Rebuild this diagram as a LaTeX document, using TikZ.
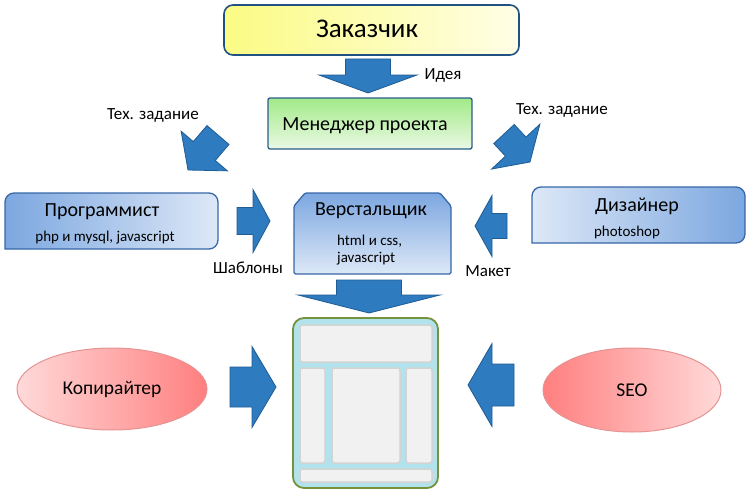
\documentclass[tikz,border=0pt]{standalone}
\usepackage{fontspec}
\setmainfont{Carlito}
\usepackage{tikz}
\usetikzlibrary{positioning, calc, shapes.geometric}

\definecolor{arrowblue}{HTML}{2E7BBF}
\definecolor{arrowedge}{HTML}{1F5C94}
\definecolor{zakleft}{HTML}{FBFB84}
\definecolor{zakright}{HTML}{FFFEE6}
\definecolor{zakedge}{HTML}{1F5283}
\definecolor{mantop}{HTML}{A2EA88}
\definecolor{manbot}{HTML}{EAF9E4}
\definecolor{manedge}{HTML}{2A5C8A}
\definecolor{carddark}{HTML}{7CA7E0}
\definecolor{cardlight}{HTML}{DDE8F7}
\definecolor{cardedge}{HTML}{3767A8}
\definecolor{pinkdark}{HTML}{FF7F7F}
\definecolor{pinklight}{HTML}{FFD9D9}
\definecolor{pinkedge}{HTML}{E59393}
\definecolor{sitefill}{HTML}{B2E3EC}
\definecolor{siteedge}{HTML}{76933C}
\definecolor{panelfill}{HTML}{F1F1F1}
\definecolor{paneledge}{HTML}{D3D3D3}

\tikzset{
	txt/.style={inner sep=0pt, text=black},
	bigtxt/.style={txt, font=\fontsize{20}{23}\selectfont},
	smalltxt/.style={txt, font=\fontsize{15}{17}\selectfont},
	lbl/.style={txt, font=\fontsize{17}{20}\selectfont},
	shell/.style={inner sep=0pt, outer sep=0pt}, % empty box, drawn by hand
	card/.style={draw=cardedge, line width=1.3pt},
	oval/.style={ellipse, inner sep=0pt, draw=pinkedge, line width=1pt, font=\fontsize{19.5}{22}\selectfont},
	blockarr/.style={fill=arrowblue, draw=arrowedge, line width=0.8pt, line join=miter},
	panel/.style={fill=panelfill, draw=paneledge, line width=1.5pt, rounded corners=2.5pt},
}

% tail, tip, half shaft, half head, head length
\newcommand{\blockarrow}[5]{%
	\coordinate (ba) at ($(#2)!#5!(#1)$);
	\draw[blockarr] ($(#1)!#3!90:(#2)$) -- ($(ba)!#3!-90:(#1)$) -- ($(ba)!#4!-90:(#1)$) -- (#2)
		-- ($(ba)!#4!90:(#1)$) -- ($(ba)!#3!90:(#1)$) -- ($(#1)!#3!-90:(#2)$) -- cycle;
}

\begin{document}
\begin{tikzpicture}[x=1pt, y=-1pt]
	\useasboundingbox (0,0) rectangle (752,503);

	\node[shell, minimum width=295pt, minimum height=50pt, rounded corners=9pt, left color=zakleft, right color=zakright, draw=zakedge, line width=1.6pt](zak) at (371.5,30){};
	\node[txt, font=\fontsize{27}{30}\selectfont](zakt) at (367,29){Заказчик};
	\node[shell, minimum width=204pt, minimum height=51pt, rounded corners=2pt, top color=mantop, bottom color=manbot, draw=manedge, line width=1.3pt](man) at (370,123.5){};
	\node[txt, font=\fontsize{20}{23}\selectfont](mant) at (365,126){Менеджер проекта};

	% cards
	\node[shell, minimum width=213pt, minimum height=56pt](prog) at (111.5,221){};
	\draw[card, left color=carddark, right color=cardlight] (prog.south west) [rounded corners=9pt] -- (prog.north west) -- (prog.north east) -- (prog.south east) [sharp corners] -- cycle;
	\node[bigtxt](progt) at (102,212){Программист};
	\node[smalltxt](progs) at (105,238){php и mysql, javascript};

	\node[shell, minimum width=213pt, minimum height=56pt](diz) at (638.5,215){};
	\draw[card, left color=cardlight, right color=carddark] (diz.south west) [rounded corners=9pt] -- (diz.north west) -- (diz.north east) -- (diz.south east) [sharp corners] -- cycle;
	\node[bigtxt](dizt) at (637,206){Дизайнер};
	\node[smalltxt](dizs) at (627,232){photoshop};

	\node[shell, minimum width=157pt, minimum height=81pt](ver) at (372.5,233.5){};
	\draw[card, top color=carddark, bottom color=cardlight, rounded corners=1.5pt] (ver.south west) -- ($(ver.north west)+(0,13)$) -- ($(ver.north west)+(11,0)$) -- ($(ver.north east)+(-11,0)$) -- ($(ver.north east)+(0,13)$) -- (ver.south east) -- cycle;
	\node[bigtxt](vert) at (371,211){Верстальщик};
	\node[smalltxt, align=left, anchor=west](vers) at (337,250){html и css,\\javascript};

	\node[oval, minimum width=190pt, minimum height=82pt, left color=pinklight, right color=pinkdark](kop) at (112,389){Копирайтер};
	\node[oval, minimum width=178pt, minimum height=84pt, left color=pinkdark, right color=pinklight](seo) at (632,390){SEO};

	% page layout
	\node[shell, minimum width=145pt, minimum height=170pt, rounded corners=11pt, fill=sitefill, draw=siteedge, line width=1.8pt](site) at (365.5,403){};
	\foreach \a/\b/\c/\d in {300/325/432/362, 300/368/325/463, 332/368/400/463, 406/368/432/463, 300/469/432/482}
		\draw[panel] (\a,\b) rectangle (\c,\d);

	% arrow ends
	\coordinate (zm1) at (368,59);
	\coordinate (zm2) at (368,93);
	\coordinate (mp1) at (218,135);
	\coordinate (mp2) at (188,170);
	\coordinate (md1) at (504,134);
	\coordinate (md2) at (530,162);
	\coordinate (pv1) at (237,221);
	\coordinate (pv2) at (270,221);
	\coordinate (dv1) at (507,226);
	\coordinate (dv2) at (475,226);
	\coordinate (vs1) at (369,280);
	\coordinate (vs2) at (369,313);
	\coordinate (ks1) at (230,387);
	\coordinate (ks2) at (276,387);
	\coordinate (ss1) at (514,385);
	\coordinate (ss2) at (468,385);

	\foreach \t/\p/\s/\h/\l in {zm1/zm2/22.5pt/49pt/18pt, mp1/mp2/14.5pt/30.5pt/25pt, md1/md2/14pt/33pt/21pt, pv1/pv2/13.5pt/31.5pt/17pt, dv1/dv2/12.5pt/30.5pt/17pt, vs1/vs2/32.5pt/71pt/18pt, ks1/ks2/20pt/40.5pt/24pt, ss1/ss2/21pt/41.5pt/24pt}
	{
		\blockarrow{\t}{\p}{\s}{\h}{\l}
	}

	\node[lbl](idea) at (443,75){Идея};
	\node[lbl](tz1) at (153,115){Тех. задание};
	\node[lbl](tz2) at (562,110){Тех. задание};
	\node[lbl](shab) at (248,268){Шаблоны};
	\node[lbl](maket) at (488,271){Макет};

\end{tikzpicture}
\end{document}
